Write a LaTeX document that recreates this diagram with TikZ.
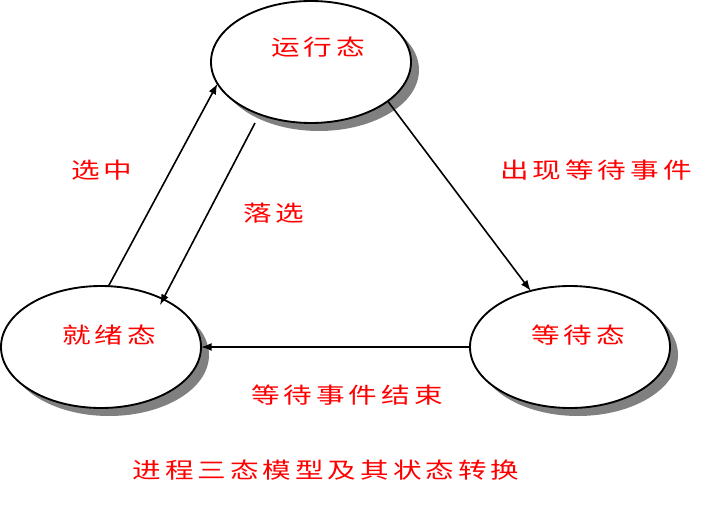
\documentclass[tikz,border=0pt]{standalone}
\usepackage{fontspec}
\usetikzlibrary{arrows.meta,shapes.geometric,shadows}
\newfontfamily\cjk[FakeStretch=1.3,LetterSpace=18]{Noto Sans CJK SC}

\tikzset{
	state/.style={draw,ellipse,line width=1.4pt,fill=white,minimum width=150pt,minimum height=91.5pt,inner sep=0pt,outer sep=0pt,
		drop shadow={shadow xshift=6pt,shadow yshift=-6pt,fill=black!50,opacity=1}},
	redtext/.style={text=red,inner sep=0.75pt,font=\cjk\fontsize{16.5}{19}\selectfont},
	trans/.style={-{Latex[length=8pt,width=6pt]},line width=1.2pt}
}

\begin{document}
\begin{tikzpicture}[x=0.75pt,y=0.75pt,yscale=-1,xscale=1]
	\useasboundingbox (0,0) rectangle (710,506);
	
	%Shape: Ellipse [running]
	\node [state] (run) at (311,62) {};
	%Shape: Ellipse [ready]
	\node [state] (ready) at (101,347) {};
	%Shape: Ellipse [waiting]
	\node [state] (wait) at (570,347) {};
	
	%Lines
	\coordinate (dropstart) at (255,123);
	\coordinate (dropend) at (160,305);
	\draw [trans] (ready.83) -- (run.193);
	\draw [trans] (dropstart) -- (dropend);
	\draw [trans] (run.333) -- (wait.125);
	\draw [trans] (wait.west) -- (ready.east);
	
	% Text Node
	\node [redtext] (runtext) at (318,47) {运行态};
	% Text Node
	\node [redtext] (readytext) at (109,335) {就绪态};
	% Text Node
	\node [redtext] (waittext) at (578,335) {等待态};
	% Text Node
	\node [redtext] (picktext) at (102,170) {选中};
	% Text Node
	\node [redtext] (droptext) at (274,213) {落选};
	% Text Node
	\node [redtext] (eventtext) at (596,170) {出现等待事件};
	% Text Node
	\node [redtext] (endtext) at (347,395) {等待事件结束};
	% Text Node
	\node [redtext] (title) at (326,470) {进程三态模型及其状态转换};
	
\end{tikzpicture}
\end{document}
